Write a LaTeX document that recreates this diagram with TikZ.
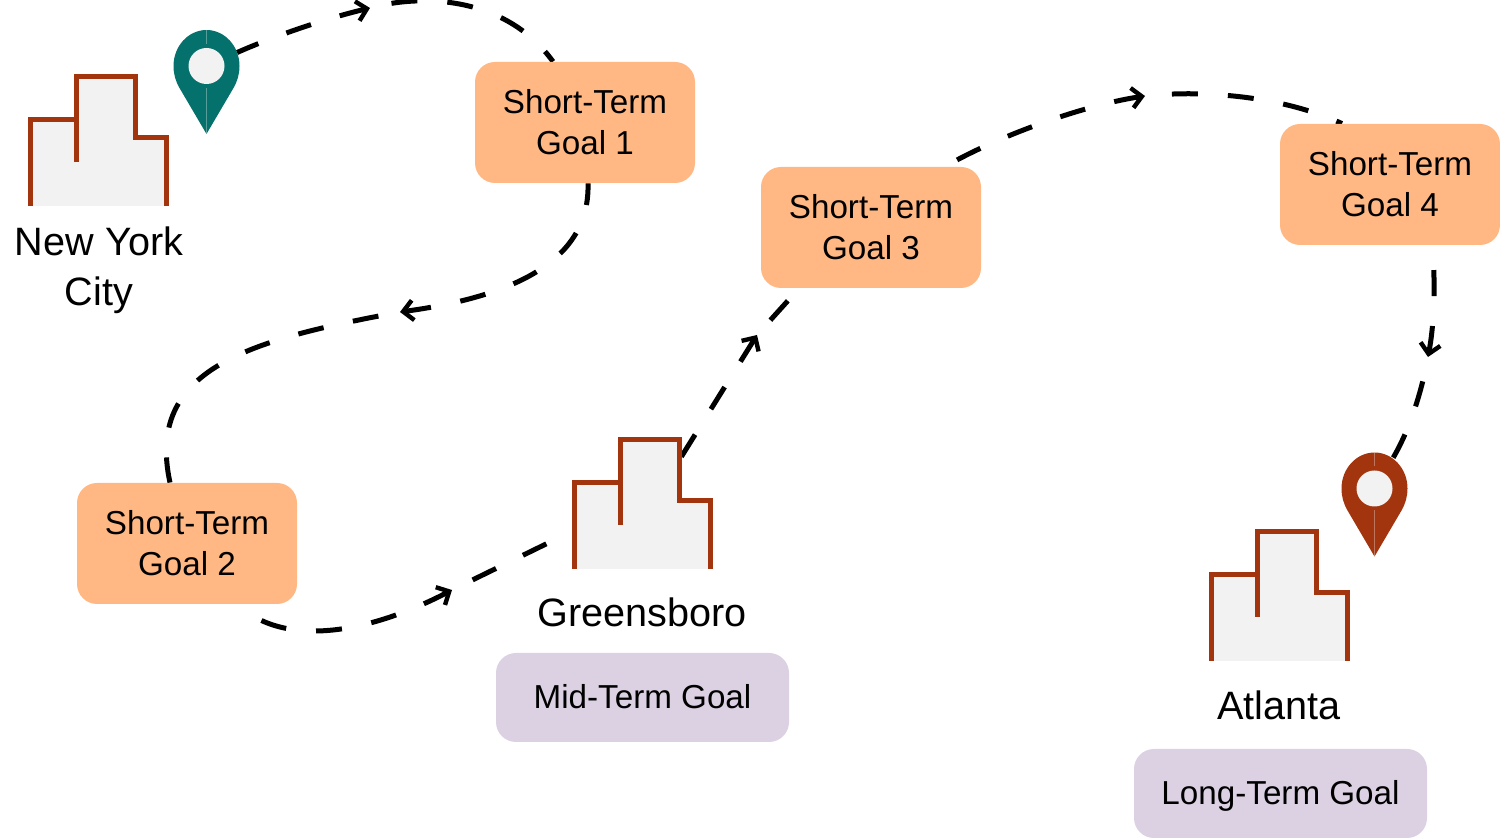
\documentclass[tikz,border=0pt]{standalone}
\usepackage{fontspec}
\setmainfont{Liberation Sans}
\usetikzlibrary{arrows.meta,backgrounds,calc}
\definecolor{rust}{HTML}{A2350E}
\definecolor{teal}{HTML}{05716C}
\definecolor{pale}{HTML}{F2F2F2}
\definecolor{peach}{HTML}{FFB884}
\definecolor{lilac}{HTML}{DCD0E3}
\tikzset{
  x=0.5pt,y=-0.5pt,
  goalbox/.style={fill=peach,rounded corners=10pt,minimum width=110pt,minimum height=60.5pt,inner sep=0pt,align=center,font=\fontsize{16.6}{20.5}\selectfont,text=black},
  termbox/.style={fill=lilac,rounded corners=10pt,minimum width=146.5pt,minimum height=44.5pt,inner sep=0pt,text height=15pt,text depth=3.5pt,font=\fontsize{16.6}{20}\selectfont,text=black},
  citylabel/.style={align=center,inner sep=0pt,font=\fontsize{19.8}{25}\selectfont,text=black},
  conn/.style={draw=black,line width=2.5pt,dash pattern=on 13pt off 15pt},
  headed/.style={conn,{Straight Barb[length=5pt,width=10pt,line width=2.2pt]}-},
  cityline/.style={draw=rust,line width=2.5pt,miter limit=10},
  cityspot/.style={minimum width=70pt,minimum height=65.5pt,inner sep=0pt},
  pinspot/.style={circle,minimum size=33pt,inner sep=0pt},
}
\newcommand{\cityshape}[3]{%
  \begin{scope}[shift={(#1,#2)}]
    \fill[pale] (30.5,206) -- (30.5,120) -- (76,120) -- (76,77) -- (135,77) -- (135,138) -- (166.5,138) -- (166.5,206) -- cycle;
    \draw[cityline] (30.5,206) -- (30.5,120) -- (76,120);
    \draw[cityline] (76,162) -- (76,77) -- (135,77) -- (135,138) -- (166.5,138) -- (166.5,206);
    \node[cityspot] (#3) at (99,140) {};
  \end{scope}}
\newcommand{\pinshape}[4]{%
  \begin{scope}[shift={(#1,#2)}]
    \fill[#3] (0,68) -- (-27,22) .. controls (-31,15) and (-33,8) .. (-33,0) .. controls (-33,-20) and (-18,-36) .. (0,-36) .. controls (18,-36) and (33,-20) .. (33,0) .. controls (33,8) and (31,15) .. (27,22) -- cycle;
    \draw[pale,opacity=.35,line width=.4pt] (0,-36) -- (0,-22) (0,22) -- (0,68);
    \fill[pale] (0,0) circle[radius=18];
    \node[pinspot] (#4) at (0,0) {};
  \end{scope}}
\begin{document}
\begin{tikzpicture}
\useasboundingbox (0,0) rectangle (1500,838);

\node[goalbox] (g1) at (585,122.5) {Short-Term\\Goal 1};
\node[goalbox] (g2) at (187,543.5) {Short-Term\\Goal 2};
\node[goalbox] (g3) at (871,227.5) {Short-Term\\Goal 3};
\node[goalbox] (g4) at (1390,184.5) {Short-Term\\Goal 4};
\node[termbox] (mid) at (642.5,697.5) {Mid-Term Goal};
\node[termbox] (long) at (1280.5,793.5) {Long-Term Goal};

\cityshape{0}{0}{nyc}
\cityshape{544}{363}{gso}
\cityshape{1181}{455}{atl}
\pinshape{206.5}{66}{teal}{pinA}
\pinshape{1374.5}{488.5}{rust}{pinB}

\node[citylabel] (nyclabel) at (99,270) {New York\\City};
\node[citylabel] (gsolabel) at (642,612) {Greensboro};
\node[citylabel] (atllabel) at (1279,705) {Atlanta};

\coordinate (a1) at (370,8);
\coordinate (a2) at (400,312);
\coordinate (a3) at (452,590);
\coordinate (a4) at (757,335);
\coordinate (a5) at (1145,96);
\coordinate (a6) at (1428,357);
\coordinate (gsoin) at ($(gso.west)+(0,28)$);
\coordinate (gsoout) at ($(gso.north east)+(-36,26)$);

\begin{scope}[on background layer]
\draw[headed] (a1) .. controls (320,20) and (270,38) .. (pinA);
\draw[conn,dash phase=17pt] (a1) .. controls (420,-6) and (505,-5) .. ($(g1.north)+(-32,0)$);
\draw[headed] (a2) .. controls (525,295) and (590,255) .. ($(g1.south)+(3,0)$);
\draw[conn,dash phase=17pt] (a2) .. controls (250,340) and (145,368) .. ($(g2.north)+(-17,0)$);
\draw[headed] (a3) .. controls (385,625) and (292,654) .. ($(g2.south)+(50,0)$);
\draw[conn,dash phase=16.5pt] (a3) -- (gsoin);
\draw[headed] (a4) -- (gsoout);
\draw[conn,dash phase=18pt] (a4) -- ($(g3.south)+(-72,0)$);
\draw[headed] (a5) .. controls (1085,105) and (1000,135) .. ($(g3.north)+(74,0)$);
\draw[conn,dash phase=14.5pt] (a5) .. controls (1200,90) and (1280,95) .. ($(g4.north)+(-48,0)$);
\draw[headed] (a6) .. controls (1434,325) and (1436,285) .. ($(g4.south)+(42,0)$);
\draw[conn,dash phase=15.5pt] (a6) .. controls (1422,390) and (1410,430) .. (pinB);
\end{scope}
\end{tikzpicture}
\end{document}
